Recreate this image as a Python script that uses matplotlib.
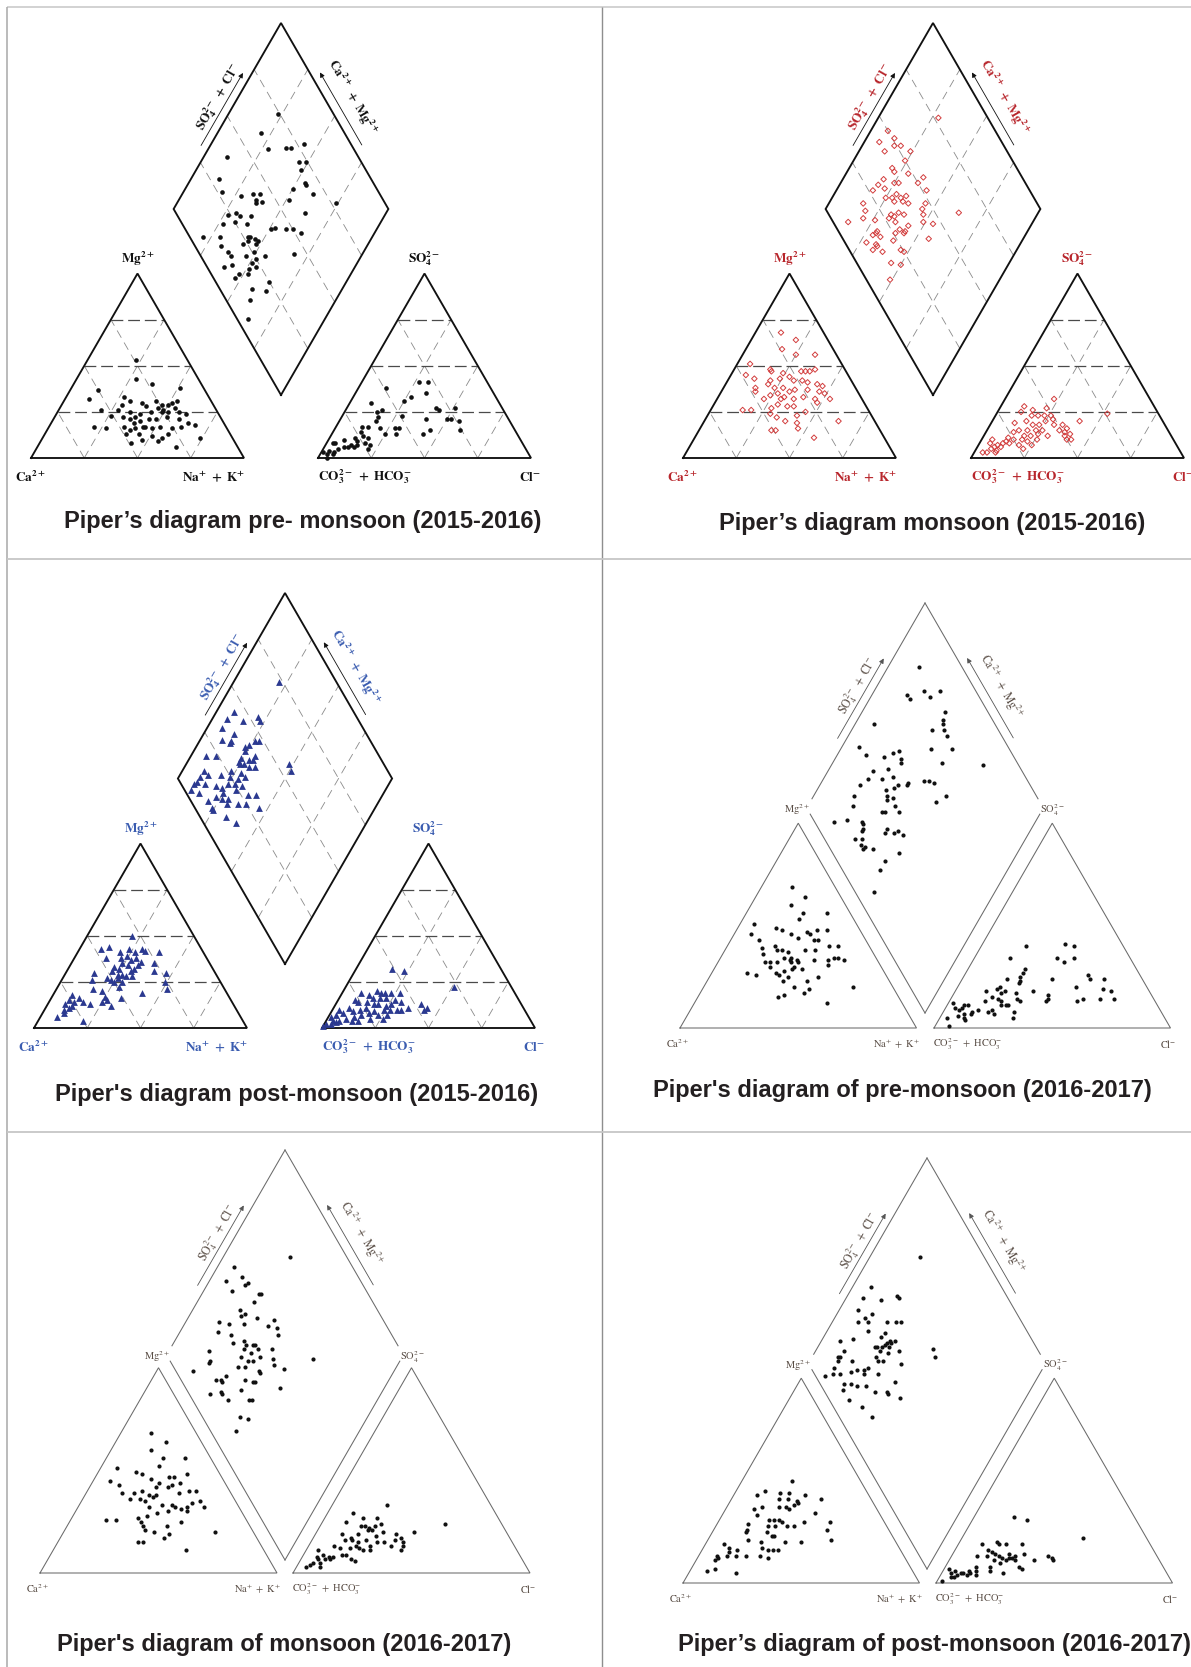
import numpy as np
import matplotlib
matplotlib.use("Agg")
import matplotlib.pyplot as plt

plt.rcParams["mathtext.fontset"] = "stix"
plt.rcParams["lines.scale_dashes"] = False

W, H = 1191, 1667
SQ3 = np.sqrt(3.0)

# ---------------------------------------------------------------------------
# Sample compositions (meq %)
#   cation triangle : (Mg, Na+K)
#   anion triangle  : (SO4, Cl)
#   central diamond : (Ca+Mg, SO4+Cl)
# ---------------------------------------------------------------------------
pre_1516_cation = [(53,23),(43,28),(40,37),(37,13),(32,11),(38,51),(33,27),(31,31),(29,28),(30,37),(28,40),(31,43),(29,47),(29,50),(30,51),(31,53),(27,54),(26,49),(27,46),(26,20),(23,26),(26,28),(25,34),(24,39),(25,44),(25,49),(25,52),(25,57),(24,61),(22,32),(21,36),(19,39),(20,41),(21,45),(21,48),(22,53),(21,59),(19,64),(18,68),(17,21),(16,27),(17,35),(15,39),(16,41),(17,44),(16,49),(17,52),(16,58),(17,62),(13,38),(13,44),(12,51),(11,56),(9,55),(8,43),(10,47),(11,74),(6,65),(13,58),(22,38),(17,45)]
pre_1516_anion = [(41,27),(41,31),(38,13),(35,33),(33,27),(31,25),(30,10),(27,42),(26,44),(27,51),(26,17),(23,28),(21,40),(21,50),(21,52),(20,56),(15,59),(15,45),(13,43),(22,17),(20,17),(17,15),(17,12),(16,21),(16,28),(16,30),(13,30),(13,25),(14,13),(12,15),(11,12),(11,18),(9,14),(7,15),(7,12),(8,18),(7,21),(5,21),(6,11),(6,9),(8,4),(8,3),(5,7),(3,6),(4,3),(2,3),(3,1),(2,6),(0,4),(10,7),(25,15),(6,14)]
pre_1516_diamond = [(77,74),(80,61),(72,60),(64,69),(62,71),(57,78),(89,39),(54,71),(51,74),(51,70),(87,29),(46,68),(45,68),(50,61),(39,69),(82,27),(72,35),(67,41),(64,44),(64,41),(61,43),(63,40),(49,56),(26,77),(70,28),(73,24),(67,29),(62,34),(38,60),(73,19),(68,25),(62,30),(48,42),(42,47),(49,40),(39,50),(34,53),(79,6),(71,14),(58,27),(57,28),(54,30),(52,31),(68,12),(58,23),(52,29),(32,44),(63,14),(61,14),(45,30),(48,25),(61,8),(58,12),(49,22),(49,19),(46,23),(52,13),(53,10),(48,17),(36,25),(42,15),(35,21),(40,11),(36,5),(57,26),(51,26),(54,21)]

mon_1516_cation = [(68,12),(64,21),(59,17),(56,25),(56,34),(51,6),(48,17),(47,18),(46,24),(44,28),(47,32),(47,34),(47,36),(48,38),(45,7),(43,12),(42,20),(43,24),(42,31),(42,35),(41,38),(40,43),(39,46),(38,15),(40,20),(38,24),(38,28),(36,32),(37,34),(37,40),(36,46),(35,49),(32,53),(32,22),(34,24),(35,27),(32,30),(33,31),(32,36),(33,40),(32,46),(30,48),(26,15),(26,19),(27,28),(29,30),(28,35),(24,29),(22,33),(20,38),(23,42),(25,45),(19,44),(16,46),(15,34),(15,36),(20,63),(11,56),(36,16),(28,38)]
mon_1516_anion = [(32,23),(27,22),(26,16),(28,11),(25,11),(23,17),(23,20),(23,23),(23,26),(19,11),(20,16),(18,20),(18,23),(20,25),(21,28),(20,41),(24,52),(15,15),(15,19),(15,23),(15,26),(18,30),(18,34),(16,37),(14,13),(12,19),(12,22),(13,25),(15,34),(14,37),(13,40),(10,42),(12,38),(10,40),(11,12),(10,15),(10,19),(9,22),(7,25),(5,22),(8,11),(7,9),(10,5),(8,5),(6,8),(6,11),(5,7),(4,10),(3,6),(3,4),(9,12),(8,14),(7,19),(3,10),(10,26),(12,30)]
mon_1516_diamond = [(72,77),(92,50),(87,51),(93,43),(85,49),(82,52),(88,43),(76,55),(76,50),(80,42),(78,42),(71,48),(63,54),(81,35),(75,39),(73,41),(82,31),(64,50),(58,52),(83,27),(78,33),(71,37),(66,41),(72,34),(68,38),(66,38),(63,40),(55,48),(84,19),(70,34),(75,31),(55,45),(81,18),(65,33),(62,35),(68,29),(66,30),(53,44),(37,61),(80,15),(74,20),(86,7),(68,27),(64,29),(57,34),(46,46),(51,42),(60,29),(57,31),(70,18),(71,15),(57,30),(61,26),(44,40),(72,10),(67,14),(60,23),(66,14),(54,24),(52,25),(67,11),(62,15),(55,16),(50,20),(51,11),(70,17),(67,18)]

post_1516_cation = [(50,21),(43,10),(44,13),(41,20),(43,23),(41,27),(43,29),(42,31),(41,38),(38,15),(38,22),(39,24),(37,27),(38,29),(36,32),(35,24),(33,21),(32,24),(34,27),(31,30),(32,31),(34,32),(35,39),(31,41),(30,47),(30,13),(31,21),(29,25),(29,27),(28,29),(28,32),(26,14),(26,23),(25,25),(25,29),(25,49),(21,17),(20,22),(22,29),(19,41),(21,52),(18,9),(16,13),(15,9),(14,12),(13,8),(12,12),(14,16),(13,20),(17,25),(15,27),(12,30),(16,33),(14,25),(10,9),(11,11),(6,8),(8,10),(4,21),(27,21),(27,26)]
post_1516_anion = [(32,17),(31,23),(22,51),(19,9),(18,13),(20,16),(19,18),(19,20),(19,23),(19,27),(16,16),(16,19),(16,22),(15,27),(14,30),(15,8),(14,10),(14,14),(13,18),(13,20),(12,24),(13,26),(10,30),(10,32),(11,35),(13,40),(11,44),(10,43),(11,7),(9,10),(10,13),(11,15),(9,20),(10,24),(10,27),(5,20),(5,26),(10,3),(8,6),(7,3),(6,1),(4,3),(3,5),(4,6),(5,9),(4,12),(6,12),(4,15),(2,1),(2,3),(1,0),(7,15),(8,18),(7,23),(7,27)]
post_1516_diamond = [(79,73),(92,44),(93,39),(85,46),(79,54),(77,54),(93,34),(86,38),(85,35),(90,31),(85,34),(72,48),(74,46),(76,42),(77,40),(76,39),(93,19),(88,24),(76,35),(72,38),(70,40),(70,42),(73,35),(76,33),(70,36),(67,39),(52,56),(49,55),(90,14),(90,11),(87,15),(77,27),(72,31),(76,25),(81,21),(72,28),(69,32),(90,8),(91,6),(86,11),(80,16),(75,22),(72,25),(77,18),(91,3),(86,6),(75,17),(70,24),(68,28),(59,32),(80,8),(77,13),(71,18),(74,15),(63,28),(61,25),(70,16),(65,21),(76,8),(54,30),(67,12),(61,15),(75,8),(75,33)]

pre_1617_cation = [(69,13),(64,21),(60,17),(56,24),(56,34),(53,24),(51,6),(49,16),(48,19),(46,24),(47,30),(48,34),(46,32),(48,38),(46,7),(43,12),(44,28),(43,35),(43,37),(40,43),(40,47),(39,15),(40,20),(38,22),(38,24),(37,27),(34,30),(38,34),(38,38),(36,17),(32,20),(32,22),(32,25),(34,27),(33,30),(32,31),(33,33),(33,40),(33,46),(31,47),(34,48),(34,50),(33,53),(30,23),(27,27),(26,29),(28,30),(29,33),(29,37),(25,46),(27,15),(26,19),(23,32),(25,33),(20,38),(23,42),(19,45),(17,44),(20,63),(15,34),(16,36),(12,56),(30,33),(32,34)]
pre_1617_anion = [(40,19),(41,35),(40,39),(34,15),(34,35),(32,39),(34,42),(29,24),(25,24),(23,25),(22,25),(27,24),(17,26),(14,28),(13,30),(24,19),(24,38),(26,52),(24,54),(24,60),(18,13),(19,17),(20,18),(17,20),(18,21),(14,20),(13,22),(11,25),(11,26),(11,23),(9,20),(13,15),(8,19),(7,22),(8,30),(5,31),(18,33),(16,40),(14,41),(13,41),(20,50),(13,54),(14,56),(14,63),(19,62),(18,66),(14,69),(12,2),(10,4),(10,7),(11,7),(11,9),(9,6),(6,7),(5,10),(4,11),(8,12),(9,14),(7,12),(5,3),(1,6),(7,9),(15,17)]
pre_1617_diamond = [(87,82),(85,70),(83,70),(79,78),(75,79),(72,85),(65,82),(64,79),(63,78),(61,77),(66,72),(58,77),(92,49),(62,67),(53,76),(93,37),(88,38),(80,45),(77,50),(75,53),(72,52),(71,51),(81,37),(81,33),(75,39),(75,44),(71,44),(83,28),(57,56),(55,58),(52,60),(63,49),(63,48),(68,42),(67,44),(36,85),(54,68),(44,62),(83,23),(81,20),(71,38),(69,37),(68,36),(66,39),(63,38),(60,38),(47,56),(66,32),(67,31),(85,8),(80,14),(73,20),(72,20),(71,19),(71,18),(61,27),(61,29),(57,31),(56,33),(53,34),(72,13),(69,16),(68,14),(66,15),(66,14),(62,18),(50,28),(54,20),(54,16),(51,8)]

mon_1617_cation = [(68,13),(64,21),(60,17),(56,24),(56,33),(52,24),(51,7),(49,16),(48,19),(46,24),(47,31),(47,33),(48,38),(45,7),(43,12),(44,28),(43,34),(44,37),(39,15),(39,20),(40,23),(38,27),(38,30),(42,33),(39,39),(40,43),(40,46),(36,20),(36,24),(35,27),(37,29),(33,35),(33,39),(32,41),(32,46),(34,47),(35,50),(32,53),(26,15),(26,19),(27,28),(25,30),(28,31),(29,35),(30,39),(31,44),(30,47),(21,34),(23,32),(20,38),(23,42),(19,45),(17,44),(25,47),(20,64),(15,34),(15,36),(11,56),(32,30),(42,28)]
mon_1617_anion = [(33,23),(29,11),(27,16),(27,22),(25,10),(23,17),(23,19),(22,21),(23,23),(24,25),(24,52),(20,41),(19,11),(17,16),(19,18),(21,21),(21,23),(20,28),(19,34),(17,37),(15,39),(13,40),(11,40),(16,35),(16,14),(16,17),(15,20),(16,23),(13,26),(15,28),(15,31),(13,11),(12,14),(12,18),(13,20),(12,22),(11,24),(11,27),(11,5),(9,8),(8,11),(8,6),(7,7),(7,10),(7,12),(8,13),(4,5),(3,4),(5,6),(5,9),(3,10),(9,16),(9,18),(7,21),(6,23),(13,35),(18,26)]
mon_1617_diamond = [(72,76),(93,50),(87,51),(93,43),(84,50),(83,52),(88,43),(75,55),(76,54),(76,50),(80,42),(78,41),(77,43),(71,47),(63,54),(60,53),(64,50),(86,30),(81,34),(75,40),(78,32),(84,27),(58,52),(75,31),(71,36),(69,36),(66,39),(65,40),(69,34),(63,40),(83,19),(57,46),(65,36),(68,31),(64,33),(62,35),(80,17),(54,44),(85,7),(80,16),(67,27),(64,30),(57,35),(52,43),(47,46),(37,61),(73,15),(71,17),(70,17),(70,20),(61,27),(57,30),(56,31),(56,35),(44,40),(72,9),(68,14),(67,14),(63,15),(60,23),(54,24),(53,25),(54,16),(50,19),(52,11),(60,39)]

post_1617_cation = [(50,21),(43,10),(45,12),(44,19),(44,23),(40,28),(39,29),(43,30),(41,38),(34,39),(30,47),(26,48),(21,52),(37,15),(41,20),(41,24),(38,28),(37,22),(37,25),(36,27),(29,13),(26,14),(25,14),(31,21),(31,23),(31,25),(28,25),(30,27),(28,30),(28,33),(30,36),(20,40),(21,17),(28,22),(25,23),(23,26),(23,27),(20,33),(20,23),(17,25),(16,28),(16,30),(16,32),(13,26),(12,30),(13,20),(16,15),(13,16),(15,12),(19,8),(13,8),(11,8),(12,9),(13,12),(7,10),(6,7),(5,20),(17,11),(36,12),(33,15)]
post_1617_anion = [(32,17),(31,23),(22,51),(19,10),(16,14),(20,16),(19,17),(19,20),(19,27),(14,30),(11,36),(13,41),(12,43),(11,44),(13,11),(13,15),(15,16),(14,18),(13,20),(12,22),(11,24),(12,25),(12,26),(11,28),(8,31),(7,33),(11,19),(10,22),(8,19),(6,20),(5,26),(8,13),(6,14),(6,11),(5,9),(5,8),(4,7),(3,6),(7,2),(5,4),(3,5),(1,2),(6,5),(4,11),(5,12),(4,15),(14,24),(13,27)]
post_1617_diamond = [(79,73),(92,45),(93,39),(85,46),(79,54),(78,54),(92,34),(85,39),(85,35),(87,35),(89,31),(77,43),(73,47),(71,49),(83,33),(75,40),(76,37),(87,25),(92,19),(76,32),(75,33),(73,35),(72,37),(72,38),(71,40),(70,40),(69,42),(70,38),(73,33),(69,36),(65,41),(51,56),(48,55),(88,18),(88,15),(88,13),(84,11),(82,19),(73,30),(71,30),(69,32),(61,39),(90,4),(88,10),(87,8),(80,16),(78,19),(75,22),(74,24),(68,27),(80,10),(79,8),(77,13),(74,15),(70,19),(65,21),(60,26),(59,26),(59,32),(53,30),(74,8),(67,12),(60,14),(89,14),(74,21)]

titles = [
    "Piper\u2019s diagram pre- monsoon (2015-2016)",
    "Piper\u2019s diagram monsoon (2015-2016)",
    "Piper's diagram post-monsoon (2015-2016)",
    "Piper's diagram of pre-monsoon (2016-2017)",
    "Piper's diagram of monsoon (2016-2017)",
    "Piper\u2019s diagram of post-monsoon (2016-2017)",
]

# ---------------------------------------------------------------------------
# Layout of each panel (figure pixels)
# ---------------------------------------------------------------------------
panels = [
    dict(data=(pre_1516_cation, pre_1516_anion, pre_1516_diamond), style="A",
         cat=(31, 458), an_x=318, s=213, bottom=(281, 395), top=23, title_xy=(303, 521),
         marker=dict(marker="o", s=11, c="#111111", linewidths=0),
         label_color="#111111"),
    dict(data=(mon_1516_cation, mon_1516_anion, mon_1516_diamond), style="A",
         cat=(683, 458), an_x=971, s=213, bottom=(933, 395), top=23, title_xy=(932, 523),
         marker=dict(marker="D", s=8, facecolors="none", edgecolors="#d23c3c", linewidths=0.7),
         label_color="#b8262c"),
    dict(data=(post_1516_cation, post_1516_anion, post_1516_diamond), style="A",
         cat=(34, 1028), an_x=322, s=213, bottom=(285, 964), top=593, title_xy=(297, 1094),
         marker=dict(marker="^", s=24, c="#2b3990", linewidths=0),
         label_color="#3a5cb0"),
    dict(data=(pre_1617_cation, pre_1617_anion, pre_1617_diamond), style="B",
         cat=(680, 1028), an_x=934, s=236.5, bottom=(925, 1013), top=603, title_xy=(902, 1090),
         marker=dict(marker="o", s=9, c="#111111", linewidths=0),
         label_color="#5a4e46"),
    dict(data=(mon_1617_cation, mon_1617_anion, mon_1617_diamond), style="B",
         cat=(40, 1573), an_x=293, s=237, bottom=(285, 1560), top=1150, title_xy=(284, 1644),
         marker=dict(marker="o", s=9, c="#111111", linewidths=0),
         label_color="#5a4e46"),
    dict(data=(post_1617_cation, post_1617_anion, post_1617_diamond), style="B",
         cat=(683, 1583), an_x=936, s=236.5, bottom=(927, 1569), top=1158, title_xy=(934, 1644),
         marker=dict(marker="o", s=9, c="#111111", linewidths=0),
         label_color="#5a4e46"),
]


def tern(base, s, top, right):
    """Ternary percentages -> figure pixels (top apex component, right corner component)."""
    top = np.asarray(top, float) / 100.0
    right = np.asarray(right, float) / 100.0
    x = base[0] + s * (right + top / 2.0)
    y = base[1] - s * SQ3 / 2.0 * top
    return x, y


def diam(bottom, s, camg, so4cl):
    """Diamond percentages (Ca+Mg, SO4+Cl) -> figure pixels."""
    a = np.asarray(camg, float) / 100.0
    b = np.asarray(so4cl, float) / 100.0
    x = bottom[0] + (b - a) * s / 2.0
    y = bottom[1] - (a + b) * s * SQ3 / 2.0
    return x, y


def labels_for(style):
    if style == "A":
        w = r"\mathbf"
    else:
        w = r"\mathrm"
    return dict(
        mg=r"$%s{Mg^{2+}}$" % w,
        ca=r"$%s{Ca^{2+}}$" % w,
        nak=r"$%s{Na^{+}\ +\ K^{+}}$" % w,
        so4=r"$%s{SO_4^{2-}}$" % w,
        co3=r"$%s{CO_3^{2-}\ +\ HCO_3^{-}}$" % w,
        cl=r"$%s{Cl^{-}}$" % w,
        left=r"$%s{SO_4^{2-}\ +\ Cl^{-}}$" % w,
        right=r"$%s{Ca^{2+}\ +\ Mg^{2+}}$" % w,
    )


def draw_panel(ax, p):
    cat_pts, an_pts, dia_pts = p["data"]
    s = p["s"]
    cb = p["cat"]
    ab = (p["an_x"], cb[1])
    B = p["bottom"]
    sd = (B[1] - p["top"]) / SQ3
    style = p["style"]
    lab = labels_for(style)
    lc = p["label_color"]

    if style == "A":
        edge_col, edge_lw = "#111111", 1.35
        fs, fs_rot = 9.5, 9.5
    else:
        edge_col, edge_lw = "#6a6a6a", 0.75
        fs, fs_rot = 7.5, 8.5

    # grids (first style only)
    if style == "A":
        for base in (cb, ab):
            for k in (25, 50, 75):
                x, y = tern(base, s, [k, k], [0, 100 - k])
                ax.plot(x, y, color="#4a4a4a", lw=0.9, ls=(0, (8.5, 3.5)), zorder=1)
                x, y = tern(base, s, [0, 100 - k], [k, k])
                ax.plot(x, y, color="#8a8a8a", lw=0.6, ls=(0, (6, 4)), zorder=1)
                x, y = tern(base, s, [0, 100 - k], [100 - k, 0])
                ax.plot(x, y, color="#8a8a8a", lw=0.6, ls=(0, (6, 4)), zorder=1)
        for k in (25, 50, 75):
            x, y = diam(B, sd, [k, k], [0, 100])
            ax.plot(x, y, color="#8a8a8a", lw=0.6, ls=(0, (6, 4)), zorder=1)
            x, y = diam(B, sd, [0, 100], [k, k])
            ax.plot(x, y, color="#8a8a8a", lw=0.6, ls=(0, (6, 4)), zorder=1)

    # triangle outlines
    for base in (cb, ab):
        x, y = tern(base, s, [0, 0, 100, 0], [0, 100, 0, 0])
        ax.plot(x, y, color=edge_col, lw=edge_lw, solid_joinstyle="miter", zorder=2)

    # diamond outline
    Lv = np.array(diam(B, sd, 100, 0))
    Rv = np.array(diam(B, sd, 0, 100))
    T = np.array(diam(B, sd, 100, 100))
    Bv = np.array(B, float)
    if style == "A":
        xs = [Bv[0], Lv[0], T[0], Rv[0], Bv[0]]
        ys = [Bv[1], Lv[1], T[1], Rv[1], Bv[1]]
        ax.plot(xs, ys, color=edge_col, lw=edge_lw, solid_joinstyle="miter", zorder=2)
    else:
        for p0, p1, f in ((T, Lv, 0.955), (T, Rv, 0.955), (Bv, Lv, 0.97), (Bv, Rv, 0.97)):
            q = p0 + f * (p1 - p0)
            ax.plot([p0[0], q[0]], [p0[1], q[1]], color=edge_col, lw=edge_lw, zorder=2)

    # samples
    c = np.array(cat_pts, float)
    x, y = tern(cb, s, c[:, 0], c[:, 1])
    ax.scatter(x, y, zorder=4, **p["marker"])
    a = np.array(an_pts, float)
    x, y = tern(ab, s, a[:, 0], a[:, 1])
    ax.scatter(x, y, zorder=4, **p["marker"])
    d = np.array(dia_pts, float)
    x, y = diam(B, sd, d[:, 0], d[:, 1])
    ax.scatter(x, y, zorder=4, **p["marker"])

    # corner labels
    tk = dict(color=lc, fontsize=fs, va="center", zorder=5)
    if style == "A":
        ax_, ay_ = tern(cb, s, 100, 0)
        ax.text(ax_, ay_ - 15, lab["mg"], ha="center", **tk)
        ax_, ay_ = tern(ab, s, 100, 0)
        ax.text(ax_, ay_ - 15, lab["so4"], ha="center", **tk)
        yb = cb[1] + 19
        ax.text(cb[0] - 1, yb, lab["ca"], ha="center", **tk)
        ax.text(cb[0] + s + 1, yb, lab["nak"], ha="right", **tk)
        ax.text(ab[0], yb, lab["co3"], ha="left", **tk)
        ax.text(ab[0] + s - 1, yb, lab["cl"], ha="center", **tk)
    else:
        ax.text(Lv[0] + 3, Lv[1] + 2, lab["mg"], ha="right", **tk)
        ax.text(Rv[0] - 3, Rv[1] + 2, lab["so4"], ha="left", **tk)
        yb = cb[1] + 16
        ax.text(cb[0] - 2, yb, lab["ca"], ha="center", **tk)
        ax.text(cb[0] + s + 4, yb, lab["nak"], ha="right", **tk)
        ax.text(ab[0] - 1, yb, lab["co3"], ha="left", **tk)
        ax.text(ab[0] + s - 2, yb, lab["cl"], ha="center", **tk)

    # axis arrows and labels along the upper diamond edges
    arrow_col = "#111111" if style == "A" else "#555555"
    for v0, rot, nrm, t_txt, off_arr, off_txt, key in (
        (Lv, 60, np.array([-SQ3 / 2, -0.5]), 0.555, 8, 17, "left"),
        (Rv, -60, np.array([SQ3 / 2, -0.5]), 0.535, 9, 24, "right"),
    ):
        e = T - v0
        p_start = v0 + 0.32 * e + off_arr * nrm
        p_end = v0 + 0.71 * e + off_arr * nrm
        ax.annotate("", xy=p_end, xytext=p_start,
                    arrowprops=dict(arrowstyle="-|>", color=arrow_col, lw=0.6,
                                    mutation_scale=7, shrinkA=0, shrinkB=0), zorder=5)
        pt = v0 + t_txt * e + off_txt * nrm
        ax.text(pt[0], pt[1], lab[key], rotation=rot, rotation_mode="anchor",
                ha="center", va="center", color=lc, fontsize=fs_rot, zorder=5)


fig = plt.figure(figsize=(W / 100, H / 100), dpi=100)
ax = fig.add_axes([0, 0, 1, 1])
ax.set_xlim(0, W)
ax.set_ylim(H, 0)
ax.axis("off")

# table rules
ax.plot([7, W], [7, 7], color="#c6c6c6", lw=1.1, solid_capstyle="butt")
ax.plot([7, 7], [7, H], color="#a8a8a8", lw=1.1, solid_capstyle="butt")
ax.plot([602, 602], [7, H], color="#8e8e8e", lw=1.0, solid_capstyle="butt")
ax.plot([7, W], [559, 559], color="#c6c6c6", lw=1.3, solid_capstyle="butt")
ax.plot([7, W], [1132, 1132], color="#c6c6c6", lw=1.3, solid_capstyle="butt")

for p, title in zip(panels, titles):
    draw_panel(ax, p)
    tx, ty = p["title_xy"]
    ax.text(tx, ty, title, ha="center", va="center", fontsize=17,
            fontweight="bold", family="Liberation Sans", color="#231f20")

fig.savefig("out.png", dpi=100)
